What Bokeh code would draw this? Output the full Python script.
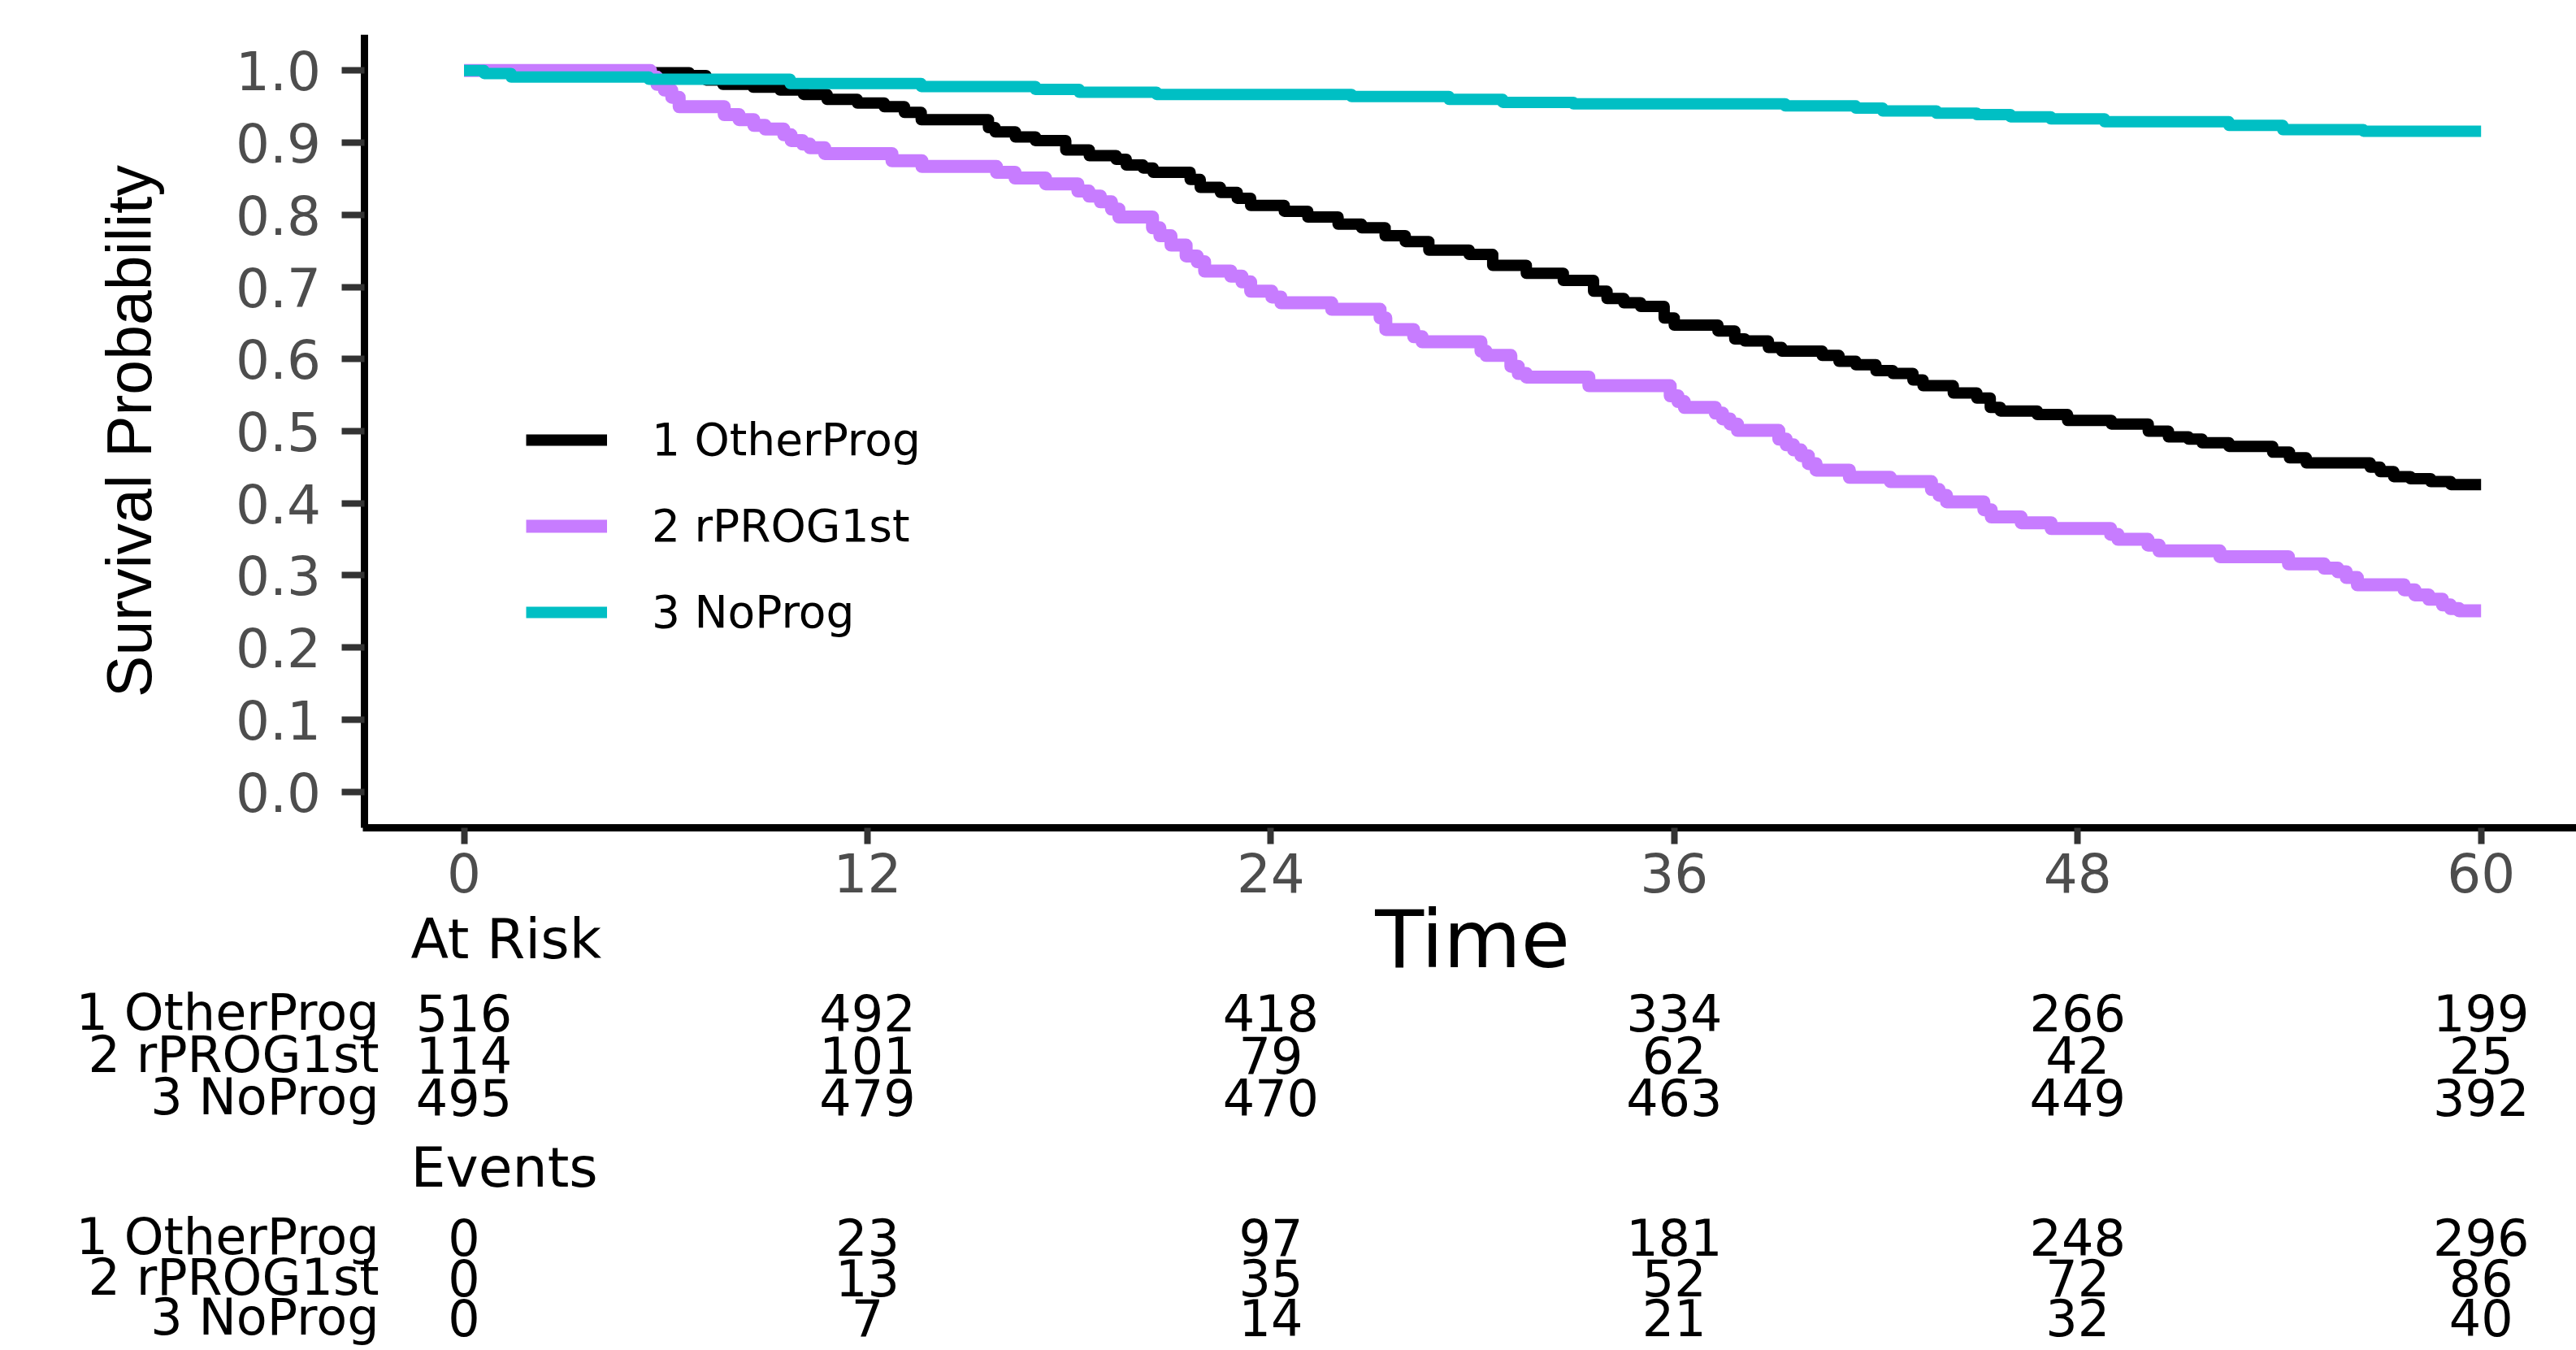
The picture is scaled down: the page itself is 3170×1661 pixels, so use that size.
import math
from bokeh.plotting import figure
from bokeh.models import (Range1d, Legend, LegendItem, FixedTicker, NumeralTickFormatter)
from bokeh.core.properties import value
from bokeh.embed import file_html
from bokeh.resources import INLINE

# ---------------- data ----------------
groups = ["1 OtherProg", "2 rPROG1st", "3 NoProg"]
colors = ["#000000", "#C77CFF", "#00BFC4"]

t_other = [0, 5.5, 6.7, 7.2, 7.7, 8.6, 9.4, 10.1, 10.8, 11.7, 12.5, 13.1, 13.6, 15.6, 15.8,
           16.4, 17.0, 17.9, 18.6, 19.4, 19.7, 20.2, 20.5, 21.6, 21.9, 22.5, 23.0, 23.4, 24.4,
           25.1, 26.0, 26.7, 27.4, 28.0, 28.7, 29.9, 30.6, 31.6, 32.7, 33.6, 34.0, 34.5, 35.0,
           35.7, 36.0, 37.3, 37.8, 38.1, 38.8, 39.2, 40.4, 40.9, 41.4, 42.0, 42.5, 43.1, 43.4,
           44.3, 45.0, 45.4, 45.7, 46.8, 47.7, 49.0, 50.1, 50.7, 51.3, 51.7, 52.5, 53.8, 54.3,
           54.8, 56.7, 57.0, 57.4, 57.9, 58.5, 59.1, 60.0]
s_other = [1.0, 0.997, 0.993, 0.987, 0.981, 0.977, 0.973, 0.967, 0.960, 0.955, 0.950, 0.942,
           0.932, 0.921, 0.915, 0.908, 0.903, 0.890, 0.882, 0.877, 0.869, 0.865, 0.859, 0.849,
           0.838, 0.831, 0.823, 0.813, 0.805, 0.797, 0.787, 0.782, 0.771, 0.763, 0.751, 0.745,
           0.730, 0.719, 0.709, 0.694, 0.684, 0.678, 0.673, 0.657, 0.647, 0.639, 0.628, 0.625,
           0.616, 0.611, 0.605, 0.597, 0.592, 0.584, 0.580, 0.571, 0.563, 0.553, 0.546, 0.533,
           0.528, 0.523, 0.515, 0.510, 0.500, 0.492, 0.489, 0.484, 0.479, 0.471, 0.463, 0.456,
           0.450, 0.444, 0.437, 0.434, 0.430, 0.426, 0.426]

t_rprog = [0, 5.55, 5.74, 5.96, 6.18, 6.40, 7.74, 8.18, 8.62, 8.96, 9.51, 9.73, 10.07, 10.29,
           10.73, 12.73, 13.62, 15.84, 16.39, 17.3, 18.26, 18.59, 18.93, 19.26, 19.48, 20.48,
           20.70, 21.03, 21.48, 21.81, 22.03, 22.81, 23.14, 23.4, 24.03, 24.3, 25.81, 27.25,
           27.42, 28.25, 28.5, 30.25, 30.4, 31.14, 31.36, 31.6, 33.46, 35.88, 36.11, 36.3,
           37.22, 37.44, 37.66, 37.88, 39.11, 39.33, 39.55, 39.77, 39.99, 40.22, 41.21, 42.43,
           43.65, 43.88, 44.10, 45.21, 45.43, 46.32, 47.21, 48.98, 49.20, 50.09, 50.42, 52.23,
           54.27, 55.33, 55.74, 55.99, 56.32, 57.71, 58.03, 58.44, 58.85, 59.09, 59.34, 60.0]
s_rprog = [1.0, 0.991, 0.981, 0.973, 0.963, 0.950, 0.939, 0.932, 0.924, 0.919, 0.911, 0.903,
           0.898, 0.893, 0.885, 0.875, 0.867, 0.859, 0.851, 0.843, 0.833, 0.826, 0.818, 0.808,
           0.797, 0.782, 0.771, 0.758, 0.743, 0.735, 0.722, 0.715, 0.707, 0.694, 0.686, 0.678,
           0.669, 0.657, 0.641, 0.631, 0.624, 0.611, 0.605, 0.590, 0.580, 0.575, 0.563, 0.549,
           0.541, 0.533, 0.525, 0.517, 0.510, 0.501, 0.489, 0.481, 0.474, 0.466, 0.455, 0.446,
           0.436, 0.430, 0.419, 0.411, 0.402, 0.391, 0.381, 0.373, 0.365, 0.357, 0.350, 0.342,
           0.334, 0.326, 0.316, 0.310, 0.305, 0.297, 0.287, 0.280, 0.273, 0.267, 0.259, 0.254,
           0.251, 0.251]

t_noprog = [0, 0.6, 1.4, 5.5, 9.7, 13.6, 17.0, 18.3, 20.6, 26.4, 29.3, 30.9, 33.0, 39.3, 41.4,
            42.2, 43.8, 45.0, 46.0, 47.2, 48.8, 52.5, 54.1, 56.5, 60.0]
s_noprog = [1.0, 0.996, 0.991, 0.988, 0.982, 0.978, 0.974, 0.970, 0.967, 0.964, 0.960, 0.956,
            0.954, 0.951, 0.948, 0.944, 0.941, 0.939, 0.936, 0.933, 0.929, 0.924, 0.918, 0.916,
            0.916]

x_ticks = [0, 12, 24, 36, 48, 60]
y_ticks = [0.0, 0.1, 0.2, 0.3, 0.4, 0.5, 0.6, 0.7, 0.8, 0.9, 1.0]
x_title = "Time"
y_title = "Survival Probability"

table_times = [0, 12, 24, 36, 48, 60]
risk_other = [516, 492, 418, 334, 266, 199]
risk_rprog = [114, 101, 79, 62, 42, 25]
risk_noprog = [495, 479, 470, 463, 449, 392]
events_other = [0, 23, 97, 181, 248, 296]
events_rprog = [0, 13, 35, 52, 72, 86]
events_noprog = [0, 7, 14, 21, 32, 40]

curves = [(t_other, s_other), (t_rprog, s_rprog), (t_noprog, s_noprog)]
for tt, ss in curves:
    assert len(tt) == len(ss)

# ---------------- layout constants (page pixels) ----------------
W, H = 3170, 1661
TOP = 42                            # frame top
X0_PAGE = 570.5                     # page x of time 0
AXIS_Y_PAGE = 1018                  # page y of the survival axis bottom (-0.05)
PX_PER_MONTH = 41.37
Y_TOP, Y_BOTTOM = 1.05, -0.05
X_AXIS_START = -3.0
FONT = "DejaVu Sans"

px_per_unit = (AXIS_Y_PAGE - TOP) / (Y_TOP - Y_BOTTOM)
x_start = -X0_PAGE / PX_PER_MONTH
x_end = x_start + W / PX_PER_MONTH
y_start = Y_TOP - (H - TOP) / px_per_unit

p = figure(width=W, height=H, output_backend="svg", toolbar_location=None,
           x_range=Range1d(x_start, x_end), y_range=Range1d(y_start, Y_TOP),
           min_border_left=0, min_border_right=0, min_border_top=TOP, min_border_bottom=0)
# a pixel-like range (page y) for the texts under the axis
p.extra_y_ranges = {"table": Range1d(start=H, end=TOP)}

p.xgrid.visible = False
p.ygrid.visible = False
p.outline_line_color = None
p.background_fill_color = "white"

for ax in (p.xaxis[0], p.yaxis[0]):
    ax.axis_line_width = 9
    ax.axis_line_color = "black"
    ax.major_tick_line_width = 8
    ax.major_tick_line_color = "#333333"
    ax.major_tick_in = 0
    ax.minor_tick_line_color = None
    ax.major_label_text_font = FONT
    ax.major_label_text_font_size = "66px"
    ax.major_label_text_color = "#4D4D4D"

p.xaxis.fixed_location = Y_BOTTOM
p.yaxis.fixed_location = X_AXIS_START + 0.05
p.xaxis.bounds = (X_AXIS_START, x_end)
p.yaxis.bounds = (Y_BOTTOM, Y_TOP)
p.xaxis.ticker = FixedTicker(ticks=x_ticks)
p.yaxis.ticker = FixedTicker(ticks=y_ticks)
p.yaxis.formatter = NumeralTickFormatter(format="0.0")
p.xaxis.major_tick_out = 20
p.yaxis.major_tick_out = 28
p.xaxis.major_label_standoff = 10
p.yaxis.major_label_standoff = 26

widths = [14, 16, 14]
renderers = []
for (tt, ss), c, w in zip(curves, colors, widths):
    r = p.step(x=tt, y=ss, mode="after", line_color=c, line_width=w, line_join="round")
    renderers.append(r)

legend = Legend(items=[LegendItem(label=g, renderers=[r]) for g, r in zip(groups, renderers)],
                location=(647, H - 793), glyph_width=100, glyph_height=80, label_height=80,
                spacing=26, label_standoff=55, padding=0, margin=0,
                border_line_color=None, background_fill_alpha=0,
                label_text_font=FONT, label_text_font_size="55px",
                label_text_color="black")
p.add_layout(legend)

# ---------------- axis titles ----------------
p.text(x=[30], y=[1155], text=[x_title], y_range_name="table",
       text_align="center", text_baseline="middle",
       text_font=value(FONT), text_font_size="98px", text_color="black")
p.text(x=[(158 - X0_PAGE) / PX_PER_MONTH], y=[0.5], text=[y_title], angle=math.pi / 2,
       text_align="center", text_baseline="middle",
       text_font=value("Liberation Sans"), text_font_size="77px", text_color="black")

# ---------------- risk table ----------------
LABEL_X = (466 - X0_PAGE) / PX_PER_MONTH
HEADER_X = (505 - X0_PAGE) / PX_PER_MONTH
risk_rows = [risk_other, risk_rprog, risk_noprog]
event_rows = [events_other, events_rprog, events_noprog]
risk_mid = [1245, 1297, 1349]
event_mid = [1521, 1571, 1620]

num_x, num_y, num_t = [], [], []
lab_x, lab_y, lab_t = [], [], []
for rows, mids in ((risk_rows, risk_mid), (event_rows, event_mid)):
    for g, vals, ym in zip(groups, rows, mids):
        lab_x.append(LABEL_X); lab_y.append(ym); lab_t.append(g)
        for tt, v in zip(table_times, vals):
            num_x.append(tt); num_y.append(ym); num_t.append(str(v))

p.text(x=num_x, y=num_y, text=num_t, y_range_name="table",
       text_align="center", text_baseline="middle",
       text_font=value(FONT), text_font_size="62px", text_color="black")
p.text(x=lab_x, y=lab_y, text=lab_t, y_range_name="table",
       text_align="right", text_baseline="middle",
       text_font=value(FONT), text_font_size="62px", text_color="black")
p.text(x=[HEADER_X, HEADER_X], y=[1155, 1436], text=["At Risk", "Events"],
       y_range_name="table", text_align="left", text_baseline="middle",
       text_font=value(FONT), text_font_size="68px", text_color="black")

open("out.html", "w").write(file_html(p, INLINE))
